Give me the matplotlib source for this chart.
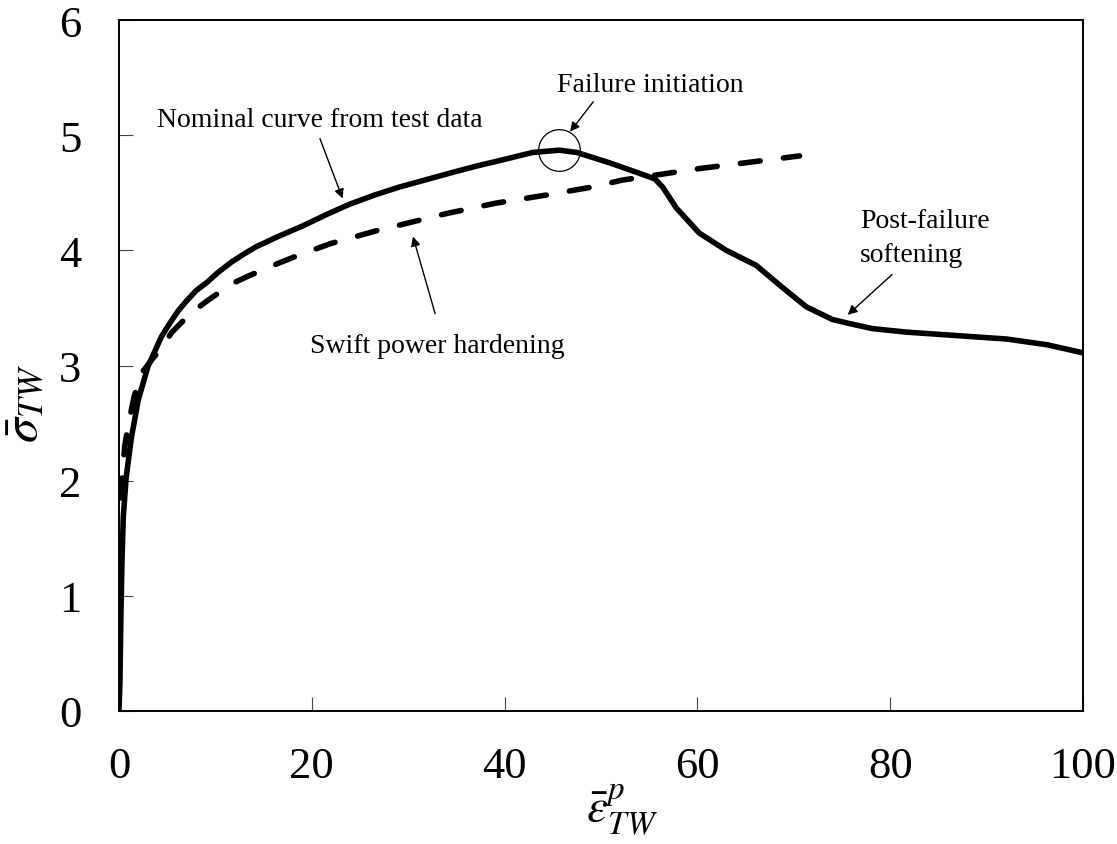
import numpy as np
import matplotlib
matplotlib.use("Agg")
import matplotlib.pyplot as plt

# Nominal true-stress / plastic-strain curve from the test data
eps_nominal = [0.0, 0.1, 0.2, 0.3, 0.45, 0.75, 1.3, 2.0, 3.0, 4.4, 5.3, 6.1, 7.0,
               8.0, 9.1, 10.3, 11.7, 13.0, 14.2, 16.5, 19.0, 21.5, 23.9, 26.5,
               29.1, 31.7, 34.3, 37.0, 39.5, 42.9, 45.7, 47.5, 50.9, 54.3, 55.6,
               56.4, 57.8, 60.2, 63.0, 66.1, 68.8, 71.3, 74.0, 76.0, 78.2, 81.7,
               86.9, 92.1, 96.3, 100.0]
sig_nominal = [0.0, 0.25, 0.82, 1.26, 1.69, 2.03, 2.38, 2.70, 2.99, 3.25, 3.37,
               3.47, 3.56, 3.65, 3.72, 3.81, 3.90, 3.97, 4.03, 4.12, 4.21, 4.31,
               4.40, 4.48, 4.55, 4.61, 4.67, 4.73, 4.78, 4.85, 4.87, 4.85, 4.76,
               4.66, 4.62, 4.55, 4.37, 4.15, 4.00, 3.87, 3.68, 3.51, 3.40, 3.36,
               3.32, 3.29, 3.26, 3.23, 3.18, 3.11]

# Swift power-law hardening fit
eps_swift = [0.15, 0.3, 0.6, 1.0, 1.6, 2.4, 3.4, 4.2, 5.5, 7.5, 9.3, 11.7, 13.5,
             16.6, 18.7, 22.0, 26.7, 34.0, 39.1, 44.3, 49.1, 52.2, 60.2, 70.6]
sig_swift = [1.85, 2.0, 2.3, 2.5, 2.74, 2.94, 3.05, 3.13, 3.29, 3.46, 3.57, 3.71,
             3.78, 3.89, 3.96, 4.06, 4.17, 4.32, 4.41, 4.48, 4.55, 4.61, 4.71, 4.82]

x_ticks = [0, 20, 40, 60, 80, 100]
y_ticks = [0, 1, 2, 3, 4, 5, 6]

plt.rcParams["font.family"] = ["Liberation Serif", "DejaVu Serif"]
plt.rcParams["mathtext.fontset"] = "stix"

fig = plt.figure(figsize=(11.17, 8.45), dpi=100)
ax = fig.add_axes([0.1065, 0.1574, 0.8630, 0.8177])

ax.plot(eps_nominal, sig_nominal, color="black", lw=4.0,
        solid_joinstyle="round", solid_capstyle="round")
ax.plot(eps_swift, sig_swift, color="black", lw=4.0,
        dashes=(3.6, 4.2), dash_capstyle="round")

# circle marking the onset of failure at the peak of the nominal curve
i_peak = int(np.argmax(sig_nominal))
ax.plot(eps_nominal[i_peak], sig_nominal[i_peak], marker="o", ms=30,
        mfc="none", mec="black", mew=0.9)

ax.set_xlim(0, 100)
ax.set_ylim(0, 6)
ax.set_xticks(x_ticks)
ax.set_yticks(y_ticks)
ax.tick_params(axis="both", direction="in", length=10, width=0.8,
               labelsize=32, color="#444444")
ax.tick_params(axis="x", pad=25)
ax.tick_params(axis="y", pad=27)
for s in ax.spines.values():
    s.set_linewidth(1.4)
    s.set_color("black")

ax.set_xlabel(r"$\bar{\varepsilon}^{p}_{TW}$", fontsize=34)
ax.set_ylabel(r"$\bar{\sigma}_{TW}$", fontsize=36)
ax.xaxis.set_label_coords(0.522, -0.102)
ax.yaxis.set_label_coords(-0.073, 0.447)

arrow = dict(arrowstyle="-|>", color="black", lw=1.0, mutation_scale=14,
             shrinkA=0, shrinkB=0)
fs = 20

ax.text(3.9, 5.08, "Nominal curve from test data", fontsize=fs,
        ha="left", va="baseline")
ax.annotate("", xy=(23.2, 4.45), xytext=(20.85, 4.97), arrowprops=arrow)

ax.text(45.4, 5.38, "Failure initiation", fontsize=fs, ha="left", va="baseline")
ax.annotate("", xy=(46.8, 5.03), xytext=(49.2, 5.29), arrowprops=arrow)

ax.text(19.8, 3.12, "Swift power hardening", fontsize=fs, ha="left",
        va="baseline")
ax.annotate("", xy=(30.5, 4.12), xytext=(32.8, 3.45), arrowprops=arrow)

ax.text(76.9, 4.20, "Post-failure", fontsize=fs, ha="left", va="baseline")
ax.text(76.9, 3.91, "softening", fontsize=fs, ha="left", va="baseline")
ax.annotate("", xy=(75.6, 3.44), xytext=(80.2, 3.79), arrowprops=arrow)

fig.savefig("out.png", dpi=100, facecolor="white")
